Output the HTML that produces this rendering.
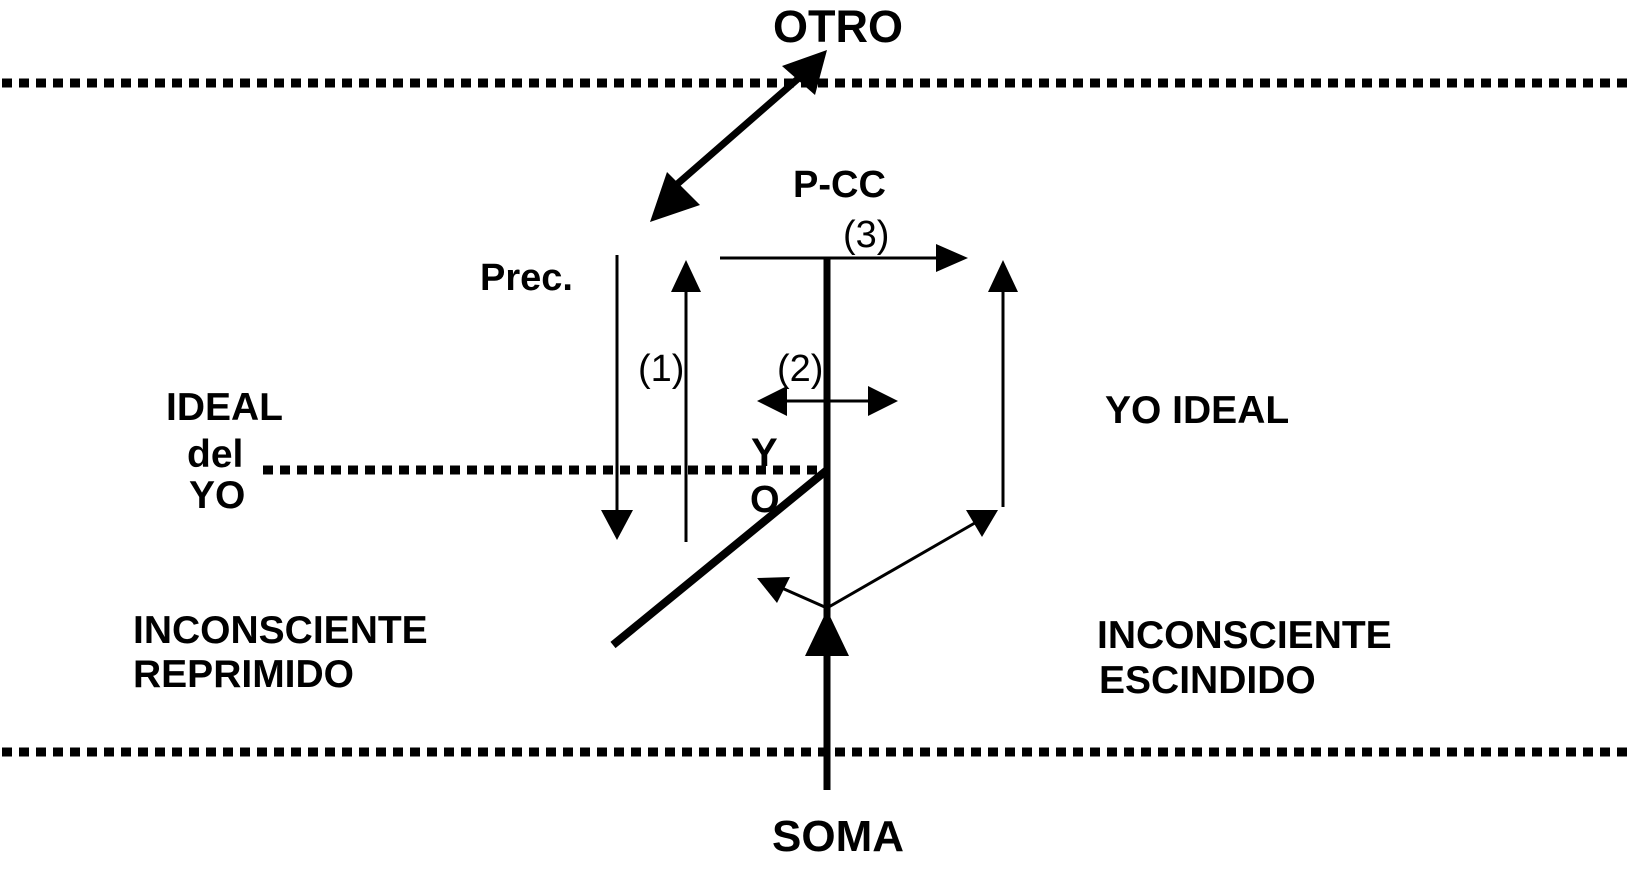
<!DOCTYPE html>
<html><head><meta charset="utf-8"><style>html,body{margin:0;padding:0;background:#fff;}svg{display:block}</style></head>
<body>
<svg width="1627" height="871" viewBox="0 0 1627 871" xmlns="http://www.w3.org/2000/svg" font-family="'Liberation Sans', Arial, sans-serif">
<rect width="1627" height="871" fill="#fff"/>
<g stroke="#000" stroke-width="9" stroke-dasharray="10 7">
<line x1="2" y1="83" x2="1627" y2="83"/>
<line x1="2" y1="752" x2="1627" y2="752"/>
<line x1="263" y1="470" x2="820" y2="470"/>
</g>
<g stroke="#000" fill="none">
<line x1="675" y1="186" x2="800" y2="77" stroke-width="7"/>
<line x1="720" y1="258" x2="940" y2="258" stroke-width="3"/>
<line x1="827" y1="258" x2="827" y2="790" stroke-width="7"/>
<line x1="617" y1="255" x2="617" y2="515" stroke-width="3"/>
<line x1="686" y1="285" x2="686" y2="542" stroke-width="3"/>
<line x1="1003" y1="285" x2="1003" y2="507" stroke-width="3"/>
<line x1="780" y1="401" x2="875" y2="401" stroke-width="3"/>
<line x1="827" y1="470" x2="613" y2="645" stroke-width="8"/>
<line x1="827" y1="608" x2="980" y2="520" stroke-width="3"/>
<line x1="827" y1="608" x2="775" y2="585" stroke-width="3"/>
</g>
<g fill="#000">
<polygon points="827,50 815,95 782,66"/>
<polygon points="650,222 667,172 700,205"/>
<polygon points="968,258 936,244 936,272"/>
<polygon points="686,260 671,292 701,292"/>
<polygon points="1003,260 988,292 1018,292"/>
<polygon points="617,540 601,510 633,510"/>
<polygon points="757,401 787,386 787,416"/>
<polygon points="898,401 868,386 868,416"/>
<polygon points="998,510 966,510 982,537"/>
<polygon points="757,578 790,577 777,603"/>
<polygon points="827,610 805,656 849,656"/>
</g>
<g fill="#000" font-weight="bold">
<text x="838" y="42" font-size="45" text-anchor="middle">OTRO</text>
<text x="838" y="851" font-size="44" text-anchor="middle">SOMA</text>
<text x="793" y="197" font-size="38">P-CC</text>
<text x="480" y="290" font-size="38">Prec.</text>
<text x="166" y="420" font-size="39">IDEAL</text>
<text x="187" y="467" font-size="39">del</text>
<text x="189" y="508" font-size="39">YO</text>
<text x="1105" y="423" font-size="39">YO IDEAL</text>
<text x="133" y="643" font-size="39">INCONSCIENTE</text>
<text x="133" y="687" font-size="39">REPRIMIDO</text>
<text x="1097" y="648" font-size="39">INCONSCIENTE</text>
<text x="1099" y="693" font-size="39">ESCINDIDO</text>
<text x="751" y="466" font-size="40">Y</text>
<text x="750" y="512" font-size="38">O</text>
</g>
<g fill="#000" font-size="38">
<text x="843" y="247">(3)</text>
<text x="638" y="381">(1)</text>
<text x="777" y="381">(2)</text>
</g>
</svg>
</body></html>
